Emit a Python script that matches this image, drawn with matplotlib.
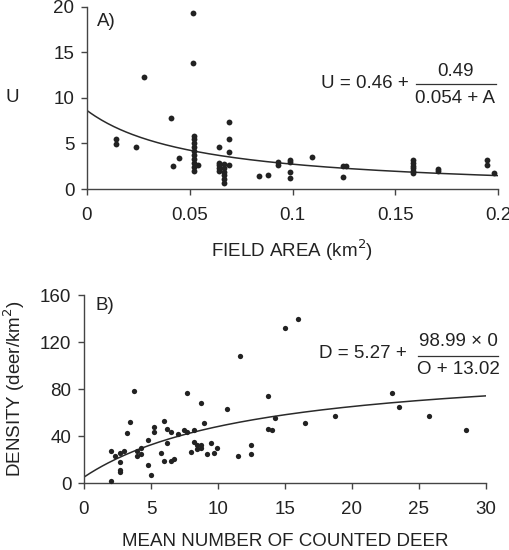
import matplotlib
matplotlib.use('Agg')
import matplotlib.pyplot as plt
from matplotlib.lines import Line2D
import numpy as np

plt.rcParams['font.family'] = ['Liberation Sans', 'DejaVu Sans']

# ---------------- Panel A data: field area (km2) vs U ----------------
area = [0.0517, 0.0517, 0.0279, 0.0409, 0.069, 0.0141, 0.0141, 0.0238,
        0.052, 0.052, 0.052, 0.052, 0.052, 0.052, 0.052, 0.052, 0.052, 0.052,
        0.0538, 0.045, 0.042,
        0.064, 0.064, 0.064, 0.064, 0.064,
        0.0668, 0.0668, 0.0668, 0.0668, 0.0668, 0.0668,
        0.069, 0.069, 0.069,
        0.0837, 0.088,
        0.093, 0.093,
        0.0988, 0.0988, 0.0988, 0.0988,
        0.1097,
        0.1248, 0.1258, 0.1248,
        0.1588, 0.1588, 0.1588, 0.1588, 0.1588, 0.1588,
        0.171, 0.171,
        0.1948, 0.1948, 0.198]
use = [19.27, 13.8, 12.25, 7.8, 7.3, 5.45, 4.93, 4.57,
       5.8, 5.45, 5.08, 4.64, 4.2, 3.73, 3.33, 2.89, 2.45, 2.0,
       2.67, 3.4, 2.49,
       4.64, 2.89, 2.6, 2.3, 2.0,
       2.74, 2.3, 1.9, 1.5, 1.1, 0.7,
       5.45, 4.06, 2.6,
       1.39, 1.5,
       3.0, 2.6,
       3.2, 3.0, 1.9, 1.26,
       3.5,
       2.56, 2.56, 1.35,
       3.2, 2.8, 2.5, 2.3, 2.0, 1.8,
       2.2, 1.95,
       3.2, 2.6, 1.8]
# fitted curve parameters (curve as drawn in the figure)
u_a, u_b, u_c = -0.46, 0.49, 0.054
a_xticks = [0, 0.05, 0.1, 0.15, 0.2]
a_xticklabels = ['0', '0.05', '0.1', '0.15', '0.2']
a_yticks = [0, 5, 10, 15, 20]

# ---------------- Panel B data: mean counted deer vs density ----------------
counted = [1.99, 1.99, 2.34, 2.69, 2.69, 2.69, 2.69, 2.96, 3.21, 3.46, 3.73,
           3.98, 3.98, 4.23, 4.23, 4.75, 4.75, 4.97, 5.25, 5.25, 5.75, 5.97,
           5.97, 6.22, 6.22, 6.47, 6.47, 6.74, 6.99, 7.46, 7.71, 7.71, 7.96,
           8.21, 8.21, 8.46, 8.46, 8.7, 8.7, 8.7, 8.96, 9.2, 9.45, 9.7, 9.95,
           10.7, 11.5, 11.64, 12.49, 12.49, 13.73, 13.73, 14.0, 14.23, 14.98,
           15.95, 16.47, 18.76, 22.99, 23.48, 25.72, 28.48]
density = [1.7, 27.2, 22.9, 25.5, 18.4, 11.3, 9.8, 27.2, 43.0, 52.3, 78.1,
           27.7, 23.2, 30.2, 24.9, 37.0, 15.3, 7.0, 48.1, 43.8, 26.0, 52.6,
           18.7, 45.8, 33.9, 43.8, 18.7, 20.6, 42.1, 45.2, 76.4, 43.5, 26.8,
           45.2, 35.3, 32.5, 28.8, 67.9, 32.5, 29.6, 50.9, 25.1, 33.9, 26.0, 30.2,
           62.8, 22.9, 108.0, 32.3, 25.1, 74.1, 45.8, 45.2, 55.2, 131.6,
           140.0, 50.9, 56.9, 76.9, 65.0, 56.9, 45.2]
d_a, d_b, d_c = 5.27, 98.99, 13.02
b_xticks = [0, 5, 10, 15, 20, 25, 30]
b_yticks = [0, 40, 80, 120, 160]

W, H = 510, 550
fig = plt.figure(figsize=(W / 100, H / 100), dpi=100)

def px(x, y):
    return x / W, 1 - y / H

dot = '#222222'
linec = '#2a2a2a'
spinec = '#444444'
txtc = '#222222'
fs = 13.5

def style(ax):
    for s in ['top', 'right']:
        ax.spines[s].set_visible(False)
    for s in ['left', 'bottom']:
        ax.spines[s].set_color(spinec)
        ax.spines[s].set_linewidth(1.0)
    ax.tick_params(axis='both', direction='out', length=4.5, width=1.0,
                   color=spinec, labelsize=fs, labelcolor=txtc)
    ax.tick_params(axis='x', pad=8.5)
    ax.tick_params(axis='y', pad=4.5)

# ---------------- Panel A ----------------
axA = fig.add_axes([87 / W, 1 - 189 / H, 411 / W, 182.3 / H])
style(axA)
axA.plot(area, use, 'o', ms=4.2, color=dot, mec='none', clip_on=False, zorder=3)
xa = np.linspace(0, 0.2, 200)
axA.plot(xa, u_a + u_b / (u_c + xa), color=linec, lw=1.1)
axA.set_xlim(0, 0.2)
axA.set_ylim(0, 20)
axA.set_xticks(a_xticks)
axA.set_xticklabels(a_xticklabels)
axA.set_yticks(a_yticks)
fig.text(*px(97, 21), 'A)', fontsize=fs, ha='left', va='center', color=txtc)
fig.text(*px(12.7, 98), 'U', fontsize=fs, ha='center', va='center', color=txtc)
fig.text(*px(292.3, 250), 'FIELD AREA (km$^2$)', fontsize=fs, ha='center',
         va='center', color=txtc)
# equation A
fig.text(*px(321, 84), 'U = 0.46 +', fontsize=fs, ha='left', va='center', color=txtc)
fig.text(*px(455, 71), '0.49', fontsize=fs, ha='center', va='center', color=txtc)
fig.text(*px(455, 99), '0.054 + A', fontsize=fs, ha='center', va='center', color=txtc)
x0, y0 = px(416, 84.5)
x1, _ = px(496, 84.5)
fig.add_artist(Line2D([x0, x1], [y0, y0], color='#333333', lw=0.9))

# ---------------- Panel B ----------------
axB = fig.add_axes([84 / W, 1 - 483.3 / H, 402 / W, 188.3 / H])
style(axB)
axB.plot(counted, density, 'o', ms=3.8, color=dot, mec='none', clip_on=False, zorder=3)
xb = np.linspace(0, 30, 200)
axB.plot(xb, d_a + d_b * xb / (xb + d_c), color=linec, lw=1.1)
axB.set_xlim(0, 30)
axB.set_ylim(0, 160)
axB.set_xticks(b_xticks)
axB.set_yticks(b_yticks)
fig.text(*px(96, 306), 'B)', fontsize=fs, ha='left', va='center', color=txtc)
fig.text(*px(14, 389), 'DENSITY (deer/km$^2$)', fontsize=fs, ha='center',
         va='center', rotation=90, color=txtc)
fig.text(*px(285, 541), 'MEAN NUMBER OF COUNTED DEER', fontsize=fs, ha='center',
         va='center', color=txtc)
# equation B
fig.text(*px(319, 354), 'D = 5.27 +', fontsize=fs, ha='left', va='center', color=txtc)
fig.text(*px(458, 342), '98.99 \u00d7 0', fontsize=fs, ha='center', va='center', color=txtc)
fig.text(*px(458, 369.5), 'O + 13.02', fontsize=fs, ha='center', va='center', color=txtc)
x0, y0 = px(418, 356)
x1, _ = px(498, 356)
fig.add_artist(Line2D([x0, x1], [y0, y0], color='#333333', lw=0.9))

fig.savefig('out.png', dpi=100)
